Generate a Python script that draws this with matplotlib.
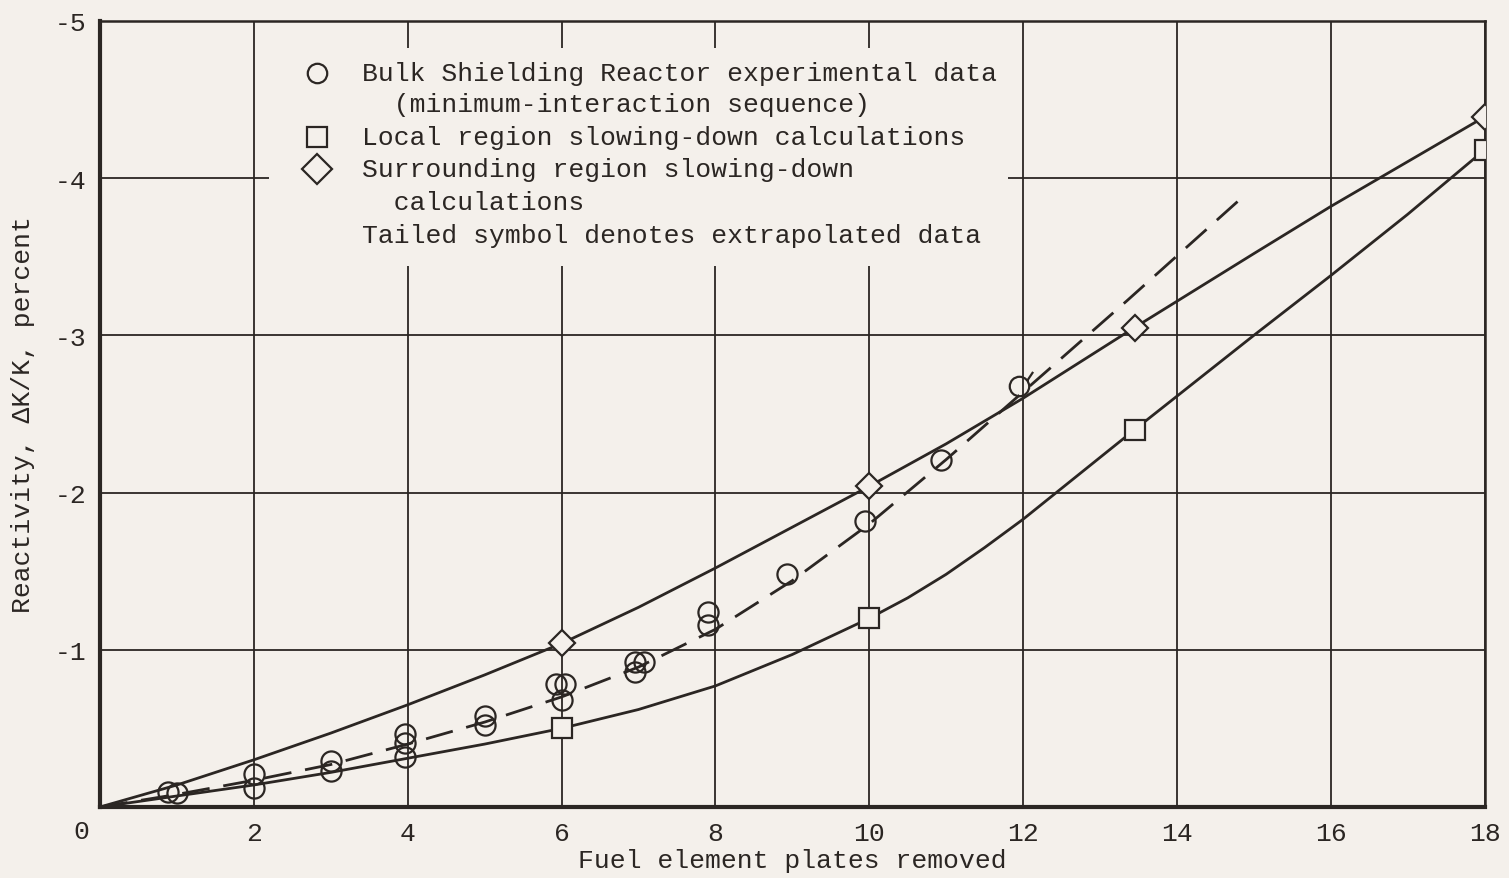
import numpy as np
import matplotlib
matplotlib.use('Agg')
import matplotlib.pyplot as plt
from matplotlib.path import Path
from matplotlib.patches import Rectangle

# ------------------------------------------------------------------
# data
# ------------------------------------------------------------------

# Bulk Shielding Reactor experimental data (circles)
bsr_x = [0.88, 1.0, 2.0, 2.0, 3.0, 3.0, 3.97, 3.97, 3.97, 5.0, 5.0,
         5.93, 6.04, 6.0, 6.96, 7.07, 6.96, 7.9, 7.9, 8.93, 9.94, 10.93]
bsr_y = [-0.095, -0.09, -0.21, -0.12, -0.29, -0.23, -0.465, -0.41, -0.32, -0.58, -0.52,
         -0.78, -0.78, -0.68, -0.92, -0.924, -0.86, -1.24, -1.16, -1.48, -1.82, -2.21]
# extrapolated (tailed) circle
bsr_tail_x = [11.95]
bsr_tail_y = [-2.68]

# local region slowing-down calculations (squares)
local_x = [6, 10, 13.45, 18]
local_y = [-0.50, -1.20, -2.40, -4.18]

# surrounding region slowing-down calculations (diamonds)
surr_x = [6, 10, 13.45, 18]
surr_y = [-1.04, -2.04, -3.05, -4.39]

# faired curves
upper_x = [0, 1, 2, 3, 4, 5, 6, 7, 8, 9, 10, 11, 12, 13.45, 15, 16, 18]
upper_y = [0, -0.14, -0.30, -0.47, -0.65, -0.84, -1.04, -1.27, -1.52, -1.78, -2.04,
           -2.31, -2.60, -3.05, -3.52, -3.82, -4.39]
lower_x = [0, 1, 2, 3, 4, 5, 6, 7, 8, 9, 10, 10.5, 11, 11.5, 12, 13.45, 15, 16, 17, 18]
lower_y = [0, -0.07, -0.14, -0.22, -0.31, -0.40, -0.50, -0.62, -0.77, -0.97, -1.20,
           -1.33, -1.48, -1.65, -1.83, -2.40, -3.0, -3.38, -3.77, -4.18]
dash_x = [0, 1, 2, 3, 4, 5, 6, 7, 8, 9, 10, 11, 12, 13.35, 14.9]
dash_y = [0, -0.08, -0.17, -0.27, -0.40, -0.54, -0.70, -0.89, -1.13, -1.44, -1.80,
          -2.21, -2.64, -3.22, -3.90]

x_ticks = [2, 4, 6, 8, 10, 12, 14, 16, 18]
y_ticks = [-1, -2, -3, -4, -5]

legend_lines = [
    ('o', 'Bulk Shielding Reactor experimental data'),
    (None, '  (minimum-interaction sequence)'),
    ('s', 'Local region slowing-down calculations'),
    ('D', 'Surrounding region slowing-down'),
    (None, '  calculations'),
    (None, 'Tailed symbol denotes extrapolated data'),
]

# ------------------------------------------------------------------
# style
# ------------------------------------------------------------------
bg = '#f4f0eb'
ink = '#2b2623'
font = 'Liberation Mono'
fs = 19

plt.rcParams['font.family'] = [font, 'DejaVu Sans Mono']

fig = plt.figure(figsize=(15.09, 8.79), dpi=100, facecolor=bg)
ax = fig.add_axes([0.0663, 0.0808, 0.9175, 0.8942])
ax.set_facecolor(bg)

ax.set_xlim(0, 18)
ax.set_ylim(0, -5)

ax.set_xticks(x_ticks)
ax.set_yticks(y_ticks)
ax.set_xticklabels([str(t) for t in x_ticks], fontsize=fs, color=ink)
ax.set_yticklabels([str(t) for t in y_ticks], fontsize=fs, color=ink)
ax.tick_params(length=0, pad=10)
ax.text(-0.25, 0.15, '0', fontsize=fs, color=ink, ha='center', va='center')

ax.set_axisbelow(True)
ax.grid(True, color=ink, linewidth=1.3)

for side, lw in [('left', 3), ('bottom', 3), ('top', 1.8), ('right', 1.8)]:
    ax.spines[side].set_linewidth(lw)
    ax.spines[side].set_color(ink)

ax.set_xlabel('Fuel element plates removed', fontsize=fs, color=ink, labelpad=2)
ax.set_ylabel('Reactivity, ΔK/K, percent', fontsize=fs, color=ink, labelpad=14,
              family=[font, 'DejaVu Sans'])

# legend mask over the grid
ax.add_patch(Rectangle((2.2, -4.83), 9.6, 1.39, facecolor=bg, edgecolor='none', zorder=1))

# curves
ax.plot(upper_x, upper_y, color=ink, lw=2, zorder=2)
ax.plot(lower_x, lower_y, color=ink, lw=2, zorder=2)
ax.plot(dash_x, dash_y, color=ink, lw=2, dashes=(10, 5), zorder=2)

mk = dict(markerfacecolor='none', markeredgecolor=ink, markeredgewidth=1.6,
          linestyle='none', zorder=3)
ax.plot(bsr_x, bsr_y, marker='o', markersize=14.5, **mk)
ax.plot(local_x, local_y, marker='s', markersize=14, markerfacecolor=bg,
        markeredgecolor=ink, markeredgewidth=1.6, linestyle='none', zorder=3)
ax.plot(surr_x, surr_y, marker='D', markersize=13.5, markerfacecolor=bg,
        markeredgecolor=ink, markeredgewidth=1.6, linestyle='none', zorder=3)

# tailed circle marker
circ = Path.unit_circle()
tail = Path([(0.8, 0.6), (1.4, 1.5)], [Path.MOVETO, Path.LINETO])
tailed = Path.make_compound_path(circ, tail)
ax.plot(bsr_tail_x, bsr_tail_y, marker=tailed, markersize=21, **mk)

# legend text
leg_y = [-4.67, -4.47, -4.26, -4.06, -3.85, -3.64]
for (m, label), yy in zip(legend_lines, leg_y):
    if m is not None:
        ax.plot([2.82], [yy], marker=m, markersize=14 if m != 'D' else 15,
                markerfacecolor=bg, markeredgecolor=ink, markeredgewidth=1.6,
                linestyle='none', zorder=3)
    ax.text(3.40, yy, label, fontsize=fs, color=ink, ha='left', va='center', zorder=3)

fig.savefig('out.png', dpi=100, facecolor=bg)
